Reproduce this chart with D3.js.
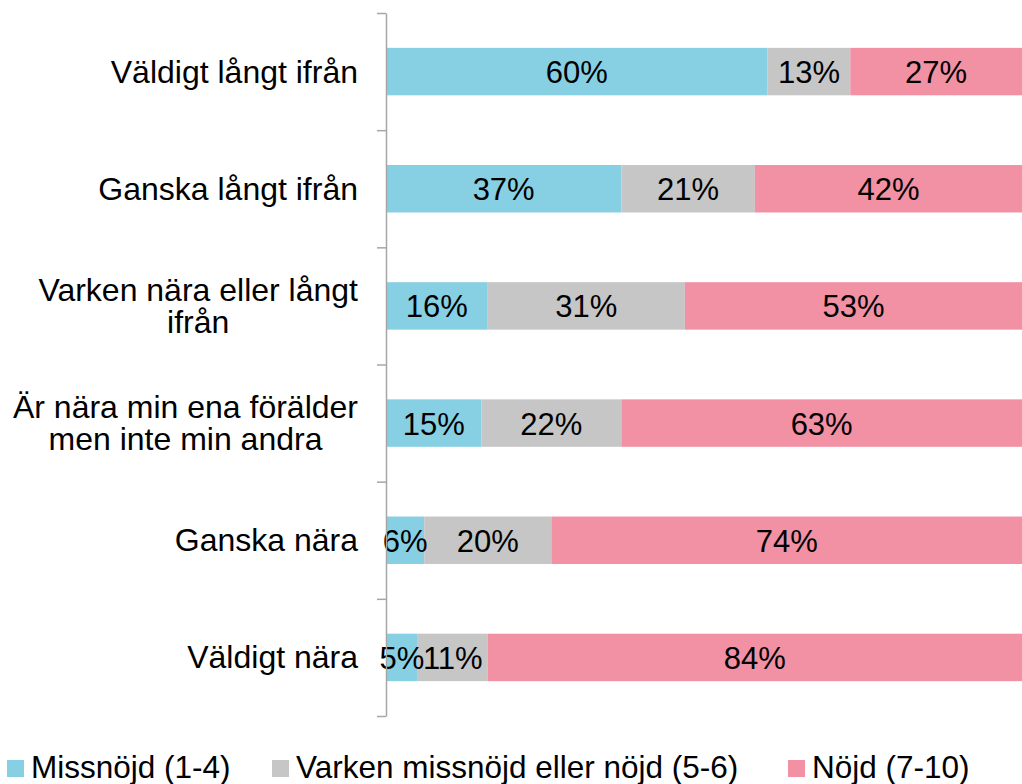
<!DOCTYPE html>
<html>
<head>
<meta charset="utf-8">
<script src="https://cdn.jsdelivr.net/npm/d3@7"></script>
<style>
    body { margin: 0; background: #fff; }
    svg text { font-family: Arial, "Liberation Sans", sans-serif; fill: #000; }
</style>
</head>
<body>
<svg id="vis" width="1022" height="784"></svg>
<script>
// categories, top to bottom (each label split into its lines)
const categories = [
    ["Väldigt långt ifrån"],
    ["Ganska långt ifrån"],
    ["Varken nära eller långt", "ifrån"],
    ["Är nära min ena förälder", "men inte min andra"],
    ["Ganska nära"],
    ["Väldigt nära"]
]

const series = [
    "Missnöjd (1-4)",
    "Varken missnöjd eller nöjd (5-6)",
    "Nöjd (7-10)"
]

const missnojd = [60, 37, 16, 15, 6, 5]
const varken = [13, 21, 31, 22, 20, 11]
const nojd = [27, 42, 53, 63, 74, 84]

const colors = ["#87cfe3", "#c6c6c6", "#f290a4"]

let margin = {
    top: 13,
    right: 0,
    bottom: 68, // legend lives down there
    left: 386
};

let svg = d3.select("#vis");
let width = 1022, height = 784;
let plotWidth = width - margin.left - margin.right;
let plotHeight = height - margin.top - margin.bottom;

let keys = categories.map(function(c) { return c.join(" "); });

let rows = keys.map(function(k, i) {
    return { key: k, lines: categories[i], vals: [missnojd[i], varken[i], nojd[i]] };
});

let xScale = d3.scaleLinear()
    .domain([0, 100])
    .range([0, plotWidth]);

let yScale = d3.scaleBand()
    .domain(keys)
    .range([0, plotHeight])
    .paddingInner(0.595)
    .paddingOuter(0.2975);

// tick marks sit between the categories
let tickScale = d3.scaleLinear()
    .domain([0, keys.length])
    .range([0, plotHeight]);

let plot = svg.append("g")
    .attr("transform", "translate(" + margin.left + "," + margin.top + ")");

// stacked segments
let stack = d3.stack().keys([0, 1, 2]).value(function(d, k) { return d.vals[k]; });
let layers = stack(rows);

layers.forEach(function(layer, li) {
    plot.append("g")
        .selectAll("rect")
        .data(layer)
        .enter()
        .append("rect")
        .attr("x", function(d) { return xScale(d[0]); })
        .attr("y", function(d) { return yScale(d.data.key); })
        .attr("width", function(d) { return xScale(d[1]) - xScale(d[0]); })
        .attr("height", yScale.bandwidth())
        .attr("fill", colors[li]);
});

// value labels
layers.forEach(function(layer, li) {
    plot.append("g")
        .selectAll("text")
        .data(layer)
        .enter()
        .append("text")
        .attr("x", function(d) { return xScale((d[0] + d[1]) / 2); })
        .attr("y", function(d) { return yScale(d.data.key) + yScale.bandwidth() / 2; })
        .attr("dy", "0.37em")
        .attr("text-anchor", "middle")
        .style("font-size", "31px")
        .text(function(d) { return d.data.vals[li] + "%"; });
});

// y axis: line plus ticks between bands
let yAxis = d3.axisLeft(tickScale)
    .tickValues(d3.range(keys.length + 1))
    .tickFormat("")
    .tickSize(9)
    .tickSizeOuter(0);

let yGroup = plot.append("g").attr("id", "y-axis").call(yAxis);
yGroup.selectAll("path, line")
    .attr("stroke", "#a6a6a6")
    .attr("stroke-width", 1.5);

// category labels: block right-aligned, lines centred within the block
let labelRight = -28;
let labelGroup = plot.append("g");
rows.forEach(function(r) {
    let cy = yScale(r.key) + yScale.bandwidth() / 2;
    let n = r.lines.length;
    let t = labelGroup.append("text")
        .attr("text-anchor", "middle")
        .style("font-size", "32px");
    let spans = r.lines.map(function(line, j) {
        return t.append("tspan")
            .attr("y", cy + 11 + (j - (n - 1) / 2) * 32)
            .text(line);
    });
    let maxW = d3.max(spans, function(s) { return s.node().getComputedTextLength(); });
    spans.forEach(function(s) { s.attr("x", labelRight - maxW / 2); });
});

// legend
let legendX = [7, 272, 788];
let legend = svg.append("g");
series.forEach(function(s, i) {
    let g = legend.append("g").attr("transform", "translate(" + legendX[i] + ",760)");
    g.append("rect")
        .attr("width", 17)
        .attr("height", 17)
        .attr("fill", colors[i]);
    g.append("text")
        .attr("x", 24)
        .attr("y", 18)
        .style("font-size", "31.5px")
        .text(s);
});
</script>
</body>
</html>
